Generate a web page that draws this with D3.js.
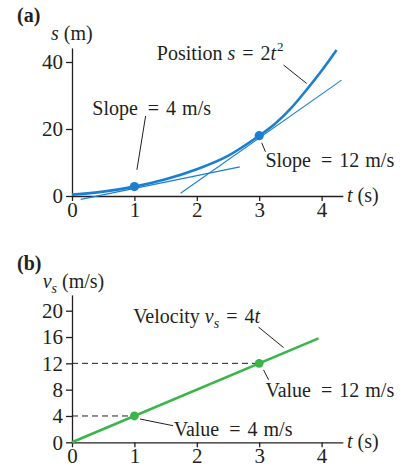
<!DOCTYPE html>
<html>
<head>
<meta charset="utf-8">
<script src="https://cdn.jsdelivr.net/npm/d3@7"></script>
<style>
body{margin:0;background:#fff;}
text{font-family:"Liberation Serif","Times New Roman",serif;fill:#231f20;white-space:pre;}
</style>
</head>
<body>
<div id="container"></div>
<script>
// values
var tTicks = [0, 1, 2, 3, 4];
var sTicks = [0, 20, 40];
var vTicks = [0, 4, 8, 12, 16, 20];

// position curve (a)
var posT = [0, 0.5, 1, 1.5, 2, 2.5, 3, 3.25, 3.5, 3.75, 4, 4.24];
var posS = [0.4, 1.3, 2.8, 5.0, 8.0, 12.0, 18.0, 21.5, 26.0, 31.5, 37.4, 43.6];
var posDotT = [1, 3];
var posDotS = [2.8, 18];
// tangent lines, start and end
var tanT = [[0.14, 2.69], [1.74, 4.32]];
var tanS = [[-1.0, 8.7], [0.8, 34.6]];

// velocity line (b)
var velT = [0, 3.95];
var velV = [0, 15.8];
var velDotT = [1, 3];
var velDotV = [4, 12];

var blue = '#1a7fd1', green = '#3ab54a', ink = '#231f20';
var fontSize = 20, tickFont = 21;
var serif = '"Liberation Serif","Times New Roman",serif';

var svg = d3.select('#container').append('svg')
    .attr('width', 408).attr('height', 470);

var x = d3.scaleLinear().domain([0, 4]).range([72, 321.6]);
var xAxisScale = d3.scaleLinear().domain([0, 4.34]).range([72, 72 + 62.4*4.34]);

var ya = d3.scaleLinear().domain([0, 44.2]).range([196, 196 - 3.35*44.2]);
var yb = d3.scaleLinear().domain([0, 22.4]).range([442.3, 442.3 - 6.58*22.4]);

function drawAxes(y, ticks){
    var base = y(0);
    var gx = svg.append('g').attr('transform', 'translate(0,'+base+')')
        .call(d3.axisBottom(xAxisScale).tickValues(tTicks).tickFormat(d3.format('d'))
            .tickSize(5).tickPadding(1).tickSizeOuter(0));
    var gy = svg.append('g').attr('transform', 'translate(72,0)')
        .call(d3.axisLeft(y).tickValues(ticks).tickFormat(d3.format('d'))
            .tickSize(6).tickPadding(3).tickSizeOuter(0));
    [gx, gy].forEach(function(g){
        g.attr('font-family', serif).attr('font-size', tickFont);
        g.selectAll('path, line').attr('stroke', ink).attr('stroke-width', 1.3);
        g.selectAll('text').attr('fill', ink).attr('font-family', serif);
    });
}

// parts: [text, style, dx] where style: 'i' italic, 'sub', 'sup'
function label(px, py, parts){
    var t = svg.append('text').attr('x', px).attr('y', py)
        .attr('font-size', fontSize).attr('font-family', serif);
    var shift = 0;
    parts.forEach(function(p){
        var span = t.append('tspan').text(p[0]);
        var st = p[1] || '';
        if(st.indexOf('i') >= 0) span.attr('font-style', 'italic');
        var want = 0;
        if(st.indexOf('sub') >= 0){ want = 5; span.attr('font-size', 14); }
        if(st.indexOf('sup') >= 0){ want = -9; span.attr('font-size', 13); }
        if(want != shift){ span.attr('dy', want - shift); shift = want; }
        if(p[2]) span.attr('dx', p[2]);
    });
    return t;
}

function pointer(xs, y, pts){
    svg.append('line')
        .attr('x1', xs(pts[0][0])).attr('y1', y(pts[0][1]))
        .attr('x2', xs(pts[1][0])).attr('y2', y(pts[1][1]))
        .attr('stroke', ink).attr('stroke-width', 1);
}

// ---------- panel (a)
drawAxes(ya, sTicks);

var line = d3.line().x(function(d){ return x(d[0]); }).y(function(d){ return ya(d[1]); });
for(var i = 0; i < tanT.length; i++){
    svg.append('path')
        .attr('d', line([[tanT[i][0], tanS[i][0]], [tanT[i][1], tanS[i][1]]]))
        .attr('stroke', blue).attr('stroke-width', 1.1).attr('fill', 'none');
}
svg.append('path')
    .attr('d', line.curve(d3.curveCatmullRom)(d3.zip(posT, posS)))
    .attr('stroke', blue).attr('stroke-width', 2.6).attr('fill', 'none');
svg.selectAll('.pdot').data(d3.zip(posDotT, posDotS)).enter().append('circle')
    .attr('cx', function(d){ return x(d[0]); })
    .attr('cy', function(d){ return ya(d[1]); })
    .attr('r', 4.6).attr('fill', blue);

pointer(x, ya, [[1.18, 23.9], [1.04, 7.8]]);
pointer(x, ya, [[3.04, 15.9], [3.10, 13.2]]);
pointer(x, ya, [[3.39, 39.1], [3.76, 33.6]]);

svg.append('text').attr('x', 17).attr('y', 22).attr('font-size', 20)
    .attr('font-family', serif).attr('font-weight', 'bold').text('(a)');
label(51, 40, [['s', 'i'], [' (m)']]);
label(x(1.36), ya(40.6), [['Position '], ['s', 'i'], [' = ', '', 2], ['2', '', 2], ['t', 'i'], ['2', 'sup', 1]]);
label(x(0.325), ya(24.2), [['Slope'], [' = ', '', 5], ['4', '', 2], [' m/s', '', 1]]);
label(x(3.10), ya(8.75), [['Slope'], [' = ', '', 5], ['12', '', 2], [' m/s', '', 1]]);
label(347, ya(0) + 6, [['t', 'i'], [' (s)']]);

// ---------- panel (b)
drawAxes(yb, vTicks);

var lineB = d3.line().x(function(d){ return x(d[0]); }).y(function(d){ return yb(d[1]); });
for(i = 0; i < velDotT.length; i++){
    svg.append('path')
        .attr('d', lineB([[0, velDotV[i]], [velDotT[i], velDotV[i]]]))
        .attr('stroke', ink).attr('stroke-width', 1).attr('stroke-dasharray', '6,4').attr('fill', 'none');
}
svg.append('path')
    .attr('d', lineB(d3.zip(velT, velV)))
    .attr('stroke', green).attr('stroke-width', 2.6).attr('fill', 'none');
svg.selectAll('.vdot').data(d3.zip(velDotT, velDotV)).enter().append('circle')
    .attr('cx', function(d){ return x(d[0]); })
    .attr('cy', function(d){ return yb(d[1]); })
    .attr('r', 4.4).attr('fill', green);

pointer(x, yb, [[2.99, 17.5], [3.39, 14.4]]);
pointer(x, yb, [[3.07, 11.0], [3.15, 9.5]]);
pointer(x, yb, [[1.09, 3.54], [1.62, 2.52]]);

svg.append('text').attr('x', 17).attr('y', 270).attr('font-size', 20)
    .attr('font-family', serif).attr('font-weight', 'bold').text('(b)');
label(42.7, 288, [['v', 'i'], ['s', 'i sub'], [' (m/s)']]);
label(x(0.98), yb(18.1), [['Velocity '], ['v', 'i'], ['s', 'i sub'], [' = ', '', 2], ['4', '', 2], ['t', 'i']]);
label(x(3.10), yb(6.93), [['Value'], [' = ', '', 5], ['12', '', 2], [' m/s', '', 1]]);
label(x(1.63), yb(0.96), [['Value'], [' = ', '', 5], ['4', '', 2], [' m/s', '', 1]]);
label(347, yb(0) + 6, [['t', 'i'], [' (s)']]);
</script>
</body>
</html>
